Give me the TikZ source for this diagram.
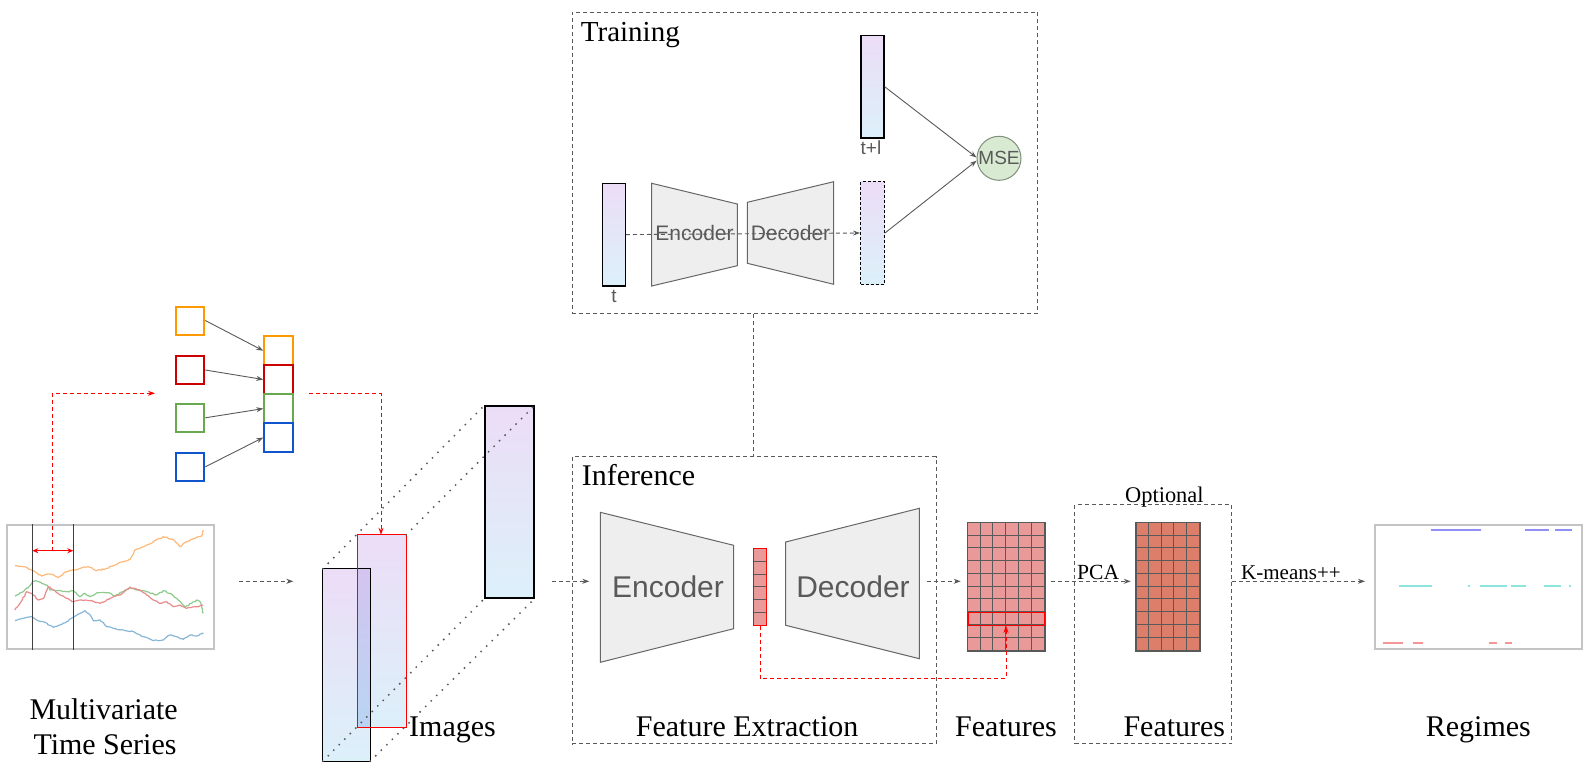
\documentclass[tikz,border=0pt]{standalone}
\usepackage{fontspec}
\setmainfont{Liberation Serif}
\newfontfamily\sansfam{Liberation Sans}
\usetikzlibrary{arrows.meta,decorations.pathmorphing}
\definecolor{cgray}{HTML}{595959}
\definecolor{trapfill}{HTML}{EEEEEE}
\definecolor{trapdraw}{HTML}{666666}
\definecolor{featA}{HTML}{EA9999}
\definecolor{featB}{HTML}{DD7E6B}
\definecolor{msefill}{HTML}{D9EAD3}
\definecolor{msedraw}{HTML}{7F8F7A}
\definecolor{gradtop}{HTML}{ECDDF6}
\definecolor{gradbot}{HTML}{DCF0FA}
\definecolor{ovtop}{HTML}{D4C4EF}
\definecolor{ovbot}{HTML}{B8D5F3}
\definecolor{sqor}{HTML}{FF9900}
\definecolor{sqred}{HTML}{CC0000}
\definecolor{sqgr}{HTML}{6AA84F}
\definecolor{sqbl}{HTML}{1155CC}
\definecolor{tsor}{HTML}{FFB877}
\definecolor{tsgr}{HTML}{8CCB8C}
\definecolor{tsrd}{HTML}{E98C8C}
\definecolor{tsbl}{HTML}{88B6D7}
\definecolor{rgbl}{HTML}{8F8FF5}
\definecolor{rgcy}{HTML}{8DE5E0}
\definecolor{rgrd}{HTML}{F59595}
\definecolor{boxgray}{HTML}{C4C4C4}
\begin{document}
\pgfmathsetseed{7}
\begin{tikzpicture}[x=1pt,y=-1pt,
  dsh/.style={dash pattern=on 4pt off 3pt},
  garrow/.style={draw=cgray, line width=0.9pt, dsh, -{Stealth[length=7pt,width=5pt]}},
  sarrow/.style={draw=cgray, line width=0.9pt, -{Stealth[length=7pt,width=5pt]}},
  rarrow/.style={draw=red, line width=1pt, dsh, -{Stealth[length=7pt,width=5pt]}},
  dline/.style={draw=cgray, line width=0.9pt, dsh},
  dbox/.style={draw=cgray, line width=1pt, dsh, inner sep=0pt, anchor=north west},
  vec/.style={rectangle, draw=black, line width=1.3pt, top color=gradtop, bottom color=gradbot, inner sep=0pt},
  trap/.style={fill=trapfill, draw=trapdraw, line width=1pt},
  serlbl/.style={inner sep=0pt, anchor=base west, font=\fontsize{30}{36}\selectfont},
  sanslbl/.style={inner sep=0pt, text=cgray, font=\sansfam\fontsize{#1}{#1}\selectfont},
  sq/.style={rectangle, minimum width=28pt, minimum height=28pt, inner sep=0pt, line width=2pt, fill=white},
  stk/.style={rectangle, minimum width=28.4pt, minimum height=28.8pt, inner sep=0pt, line width=2pt},
  gridbox/.style={rectangle, anchor=north west, inner sep=0pt, draw=cgray, line width=1pt},
  dotl/.style={draw=cgray, line width=2.1pt, line cap=round, dash pattern=on 0pt off 7.8pt},
  tsline/.style={line width=1.2pt, decorate, decoration={random steps, segment length=2pt, amplitude=0.6pt}},
  seg/.style={line width=2.1pt}
]
\useasboundingbox (0,0) rectangle (1591,766);

% ---------- Training box ----------
\node[dbox, minimum width=465.6pt, minimum height=301.6pt] (train) at (571.7,11.7) {};
\node[serlbl, font=\fontsize{29}{34}\selectfont] (trainlbl) at (580.7,41.7) {Training};
\node[vec, minimum width=23pt, minimum height=102.7pt] (tplus) at (872.5,86.7) {};
\node[vec, minimum width=23pt, minimum height=102.7pt] (tvec) at (613.8,234.6) {};
\node[vec, dash pattern=on 3pt off 2pt, minimum width=23.6pt, minimum height=102.6pt] (outv) at (872.5,233) {};
\draw[trap] (651.7,183.3) -- (737.3,204) -- (737.3,265.7) -- (651.7,286) -- cycle;
\draw[trap] (747.3,202.3) -- (833.7,181.7) -- (833.7,284.3) -- (747.3,263.3) -- cycle;
\node[sanslbl=21] (encT) at (694.5,233) {Encoder};
\node[sanslbl=21] (decT) at (790.5,233) {Decoder};
\draw[garrow] (tvec.east) -- (outv.west);
\node[sanslbl=19] (tpl) at (871,148) {t+l};
\node[sanslbl=19] (tl) at (614,296) {t};
\node[circle, minimum size=44pt, inner sep=0pt, fill=msefill, draw=msedraw, line width=1pt] (mse) at (999,158.3) {};
\node[sanslbl=19] (msetxt) at (mse.center) {MSE};
\draw[sarrow] (tplus.east) -- (mse.178);
\draw[sarrow] (outv.east) -- (mse.186);

% ---------- Inference box ----------
\node[dbox, minimum width=363.8pt, minimum height=287.3pt] (infer) at (571.7,456) {};
\coordinate (tcx) at (753.3,0);
\draw[dline] (train.south -| tcx) -- (infer.north -| tcx);
\node[serlbl] (inflbl) at (581.7,485) {Inference};
\draw[trap] (600.3,512.3) -- (733.7,545.3) -- (733.7,628.7) -- (600.3,662.3) -- cycle;
\draw[trap] (785.7,542) -- (919.3,508.3) -- (919.3,658.7) -- (785.7,625.3) -- cycle;
\node[sanslbl=30] (encI) at (668,586.7) {Encoder};
\node[sanslbl=30] (decI) at (853,586.7) {Decoder};
\node[rectangle, anchor=north west, inner sep=0pt, minimum width=13pt, minimum height=77pt, fill=featA] (latent) at (753.3,548.3) {};
\foreach \i in {1,...,5} \draw[cgray, line width=0.9pt] (753.3,{548.3+\i*12.83}) -- (766.3,{548.3+\i*12.83});
\draw[red, line width=1.2pt] (latent.north west) rectangle (latent.south east);
\node[serlbl] (felbl) at (635.7,736.7) {Feature Extraction};

% ---------- Features ----------
\node[gridbox, minimum width=76.7pt, minimum height=127.7pt, fill=featA] (feat1) at (967.3,522.3) {};
\foreach \i in {1,...,5} \draw[cgray, line width=1pt] ({967.3+\i*12.783},522.3) -- ({967.3+\i*12.783},650);
\foreach \j in {1,...,9} \draw[cgray, line width=1pt] (967.3,{522.3+\j*12.77}) -- (1044,{522.3+\j*12.77});
\draw[cgray, line width=1pt] (feat1.north west) rectangle (feat1.south east);
\node[rectangle, anchor=north west, inner sep=0pt, minimum width=76.7pt, minimum height=12.8pt, draw=red, line width=1.2pt] (hrow) at (967.3,611.7) {};
\node[serlbl] (f1lbl) at (955,736.7) {Features};

\node[dbox, minimum width=156.7pt, minimum height=239.3pt] (optbox) at (1074.3,504) {};
\node[serlbl, font=\fontsize{22.4}{26}\selectfont] (optlbl) at (1125,502.3) {Optional};
\node[gridbox, minimum width=63.6pt, minimum height=127.7pt, fill=featB] (feat2) at (1135.7,522.3) {};
\foreach \i in {1,...,4} \draw[cgray, line width=1pt] ({1135.7+\i*12.72},522.3) -- ({1135.7+\i*12.72},650);
\foreach \j in {1,...,9} \draw[cgray, line width=1pt] (1135.7,{522.3+\j*12.77}) -- (1199.3,{522.3+\j*12.77});
\draw[cgray, line width=1pt] (feat2.north west) rectangle (feat2.south east);
\node[serlbl] (f2lbl) at (1123.3,736.7) {Features};

% red dashed latent -> feature row
\coordinate (rc) at (1006,678.3);
\draw[rarrow] (latent.south) |- (rc) -- (hrow.south -| rc);

% ---------- Regimes ----------
\node[rectangle, anchor=north west, inner sep=0pt, minimum width=206.7pt, minimum height=123.7pt, draw=boxgray, line width=1.5pt] (reg) at (1374.3,524.3) {};
\foreach \a/\b in {1430.7/1481, 1525.3/1549.3, 1555/1572} \draw[rgbl, seg] (\a,530) -- (\b,530);
\foreach \a/\b in {1399/1431.7, 1467.8/1469.8, 1480/1507.3, 1510.7/1526, 1544.3/1560.7, 1568.5/1570.5} \draw[rgcy, seg] (\a,586.3) -- (\b,586.3);
\foreach \a/\b in {1383.3/1402.7, 1413.3/1423.3, 1489.3/1496.7, 1505.3/1512} \draw[rgrd, seg] (\a,642.7) -- (\b,642.7);
\node[serlbl] (reglbl) at (1425.7,736.7) {Regimes};

% ---------- Horizontal flow arrows ----------
\coordinate (p1s) at (239.3,581.3); \coordinate (p1e) at (293.3,581.3);
\coordinate (p2s) at (551.7,581.3); \coordinate (p2e) at (589.3,581.3);
\coordinate (p3s) at (926.7,581.3); \coordinate (p3e) at (960.7,581.3);
\coordinate (p4s) at (1051,581.3); \coordinate (p4e) at (1130.7,581.3);
\coordinate (p5s) at (1231.7,581.3); \coordinate (p5e) at (1365,581.3);
\draw[garrow] (p1s) -- (p1e);
\draw[garrow] (p2s) -- (p2e);
\draw[garrow] (p3s) -- (p3e);
\draw[garrow] (p4s) -- (p4e);
\draw[garrow] (p5s) -- (p5e);
\node[serlbl, font=\fontsize{21.6}{26}\selectfont] (pcalbl) at (1077,579.5) {PCA};
\node[serlbl, font=\fontsize{21}{26}\selectfont] (kmlbl) at (1241,579) {K-means++};

% ---------- Time series ----------
\node[rectangle, anchor=north west, inner sep=0pt, minimum width=207.3pt, minimum height=124pt, draw=boxgray, line width=1.5pt] (ts) at (6,524) {};
\begin{scope}[x=0.33333pt, y=-0.33333pt, shift={(0pt,-500pt)}]
\draw[tsor, tsline] plot coordinates {(45,197) (70,200) (95,210) (125,228) (150,222) (175,232) (200,215) (220,210) (240,205) (265,200) (290,212) (320,205) (345,195) (370,185) (390,178) (405,150) (430,140) (460,125) (490,110) (520,118) (540,140) (560,125) (585,115) (605,108) (610,90)};
\draw[tsgr, tsline] plot coordinates {(45,288) (70,275) (95,250) (105,242) (125,250) (140,255) (150,270) (175,272) (200,275) (220,272) (240,290) (255,280) (270,290) (295,278) (325,278) (345,288) (370,275) (390,262) (410,270) (440,275) (470,285) (490,272) (510,280) (530,295) (555,320) (575,310) (590,300) (600,305) (610,340)};
\draw[tsrd, tsline] plot coordinates {(45,330) (60,310) (80,275) (100,285) (115,300) (130,295) (145,260) (160,270) (180,285) (200,295) (220,305) (245,300) (270,302) (300,310) (330,295) (360,285) (390,262) (420,270) (440,285) (460,300) (480,310) (500,305) (520,320) (540,315) (560,325) (590,320) (610,315)};
\draw[tsbl, tsline] plot coordinates {(45,362) (70,355) (95,350) (110,360) (130,365) (160,382) (180,375) (200,365) (220,352) (240,340) (255,332) (265,340) (280,362) (300,360) (320,380) (340,385) (370,390) (400,395) (430,410) (460,422) (490,420) (510,405) (530,410) (550,418) (570,405) (590,408) (610,398)};
\end{scope}
\coordinate (w1) at (32.3,524); \coordinate (w2) at (73.3,524);
\draw[black!75, line width=1.3pt] (w1) -- (w1 |- ts.south);
\draw[black!75, line width=1.3pt] (w2) -- (w2 |- ts.south);
\coordinate (wl) at (32.3,550.7); \coordinate (wr) at (73.3,550.7);
\draw[red, line width=1.4pt, {Stealth[length=6pt,width=5pt]}-{Stealth[length=6pt,width=5pt]}] (wl) -- (wr);
\coordinate (wm) at (52.3,550.7); \coordinate (wt) at (155,393.3);
\draw[rarrow] (wm) |- (wt);

% ---------- Channel squares ----------
\node[sq, draw=sqor] (sq1) at (190.3,320.5) {};
\node[sq, draw=sqred] (sq2) at (190.3,370) {};
\node[sq, draw=sqgr] (sq3) at (190.3,417.8) {};
\node[sq, draw=sqbl] (sq4) at (190.3,466.8) {};
\node[stk, draw=sqor] (st1) at (278.5,350.7) {};
\node[stk, draw=sqred] (st2) at (278.5,379.5) {};
\node[stk, draw=sqgr] (st3) at (278.5,408.6) {};
\node[stk, draw=sqbl] (st4) at (278.5,437.5) {};
\draw[sarrow] (sq1.east) -- (st1.west);
\draw[sarrow] (sq2.east) -- (st2.west);
\draw[sarrow] (sq3.east) -- (st3.west);
\draw[sarrow] (sq4.east) -- (st4.west);

% ---------- Images ----------
\node[rectangle, inner sep=0pt, top color=gradtop, bottom color=gradbot, minimum width=47pt, minimum height=192pt] (imgA) at (346.5,665) {};
\node[rectangle, inner sep=0pt, top color=gradtop, bottom color=gradbot, minimum width=48pt, minimum height=192pt] (imgB) at (382,631) {};
\shade[top color=ovtop, bottom color=ovbot] (imgB.west |- imgA.north) rectangle (imgA.east |- imgB.south);
\draw[black, line width=1.3pt] (imgA.north west) rectangle (imgA.south east);
\draw[red, line width=1.3pt] (imgB.north west) rectangle (imgB.south east);
\node[vec, minimum width=49pt, minimum height=192pt] (imgC) at (509.5,502) {};
\draw[dotl] (imgA.north west) -- (imgC.north west);
\draw[dotl] (imgB.north east) -- (imgC.north east);
\draw[dotl] (imgA.south west) -- (imgC.south west);
\draw[dotl] (imgA.south east) -- (imgC.south east);
\node[serlbl] (imglbl) at (409,736.7) {Images};

% red dashed stack -> image
\coordinate (rs) at (309.3,393.3); \coordinate (rk) at (381,393.3);
\draw[rarrow] (rs) -- (rk) -- (rk |- imgB.north);

% ---------- Time series label ----------
\node[serlbl] (mts1) at (29.3,719) {Multivariate};
\node[serlbl] (mts2) at (33.3,754) {Time Series};
\end{tikzpicture}
\end{document}
